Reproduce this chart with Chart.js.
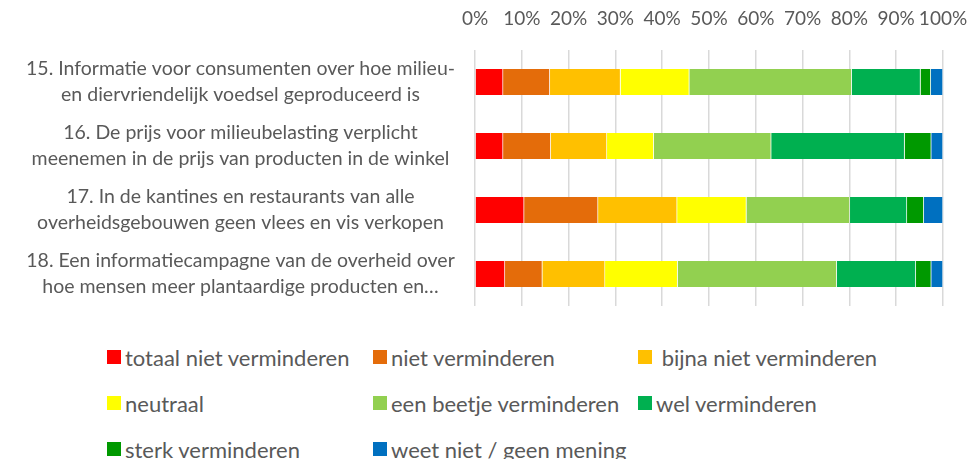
<!DOCTYPE html>
<html>
<head>
<meta charset="utf-8">
<script src="https://cdn.jsdelivr.net/npm/chart.js@4/dist/chart.umd.min.js"></script>
<style>
  body { margin: 0; background: #fff; }
  #wrap { position: relative; width: 980px; height: 459px; }
  #legend {
    position: absolute; left: 107px; top: 334px;
    display: grid; grid-template-columns: 266px 265px 300px; grid-auto-rows: 46px;
    font-family: Lato, "Noto Sans", sans-serif; font-size: 22px; color: #595959;
  }
  .item { display: flex; align-items: center; white-space: pre; }
  .box { width: 14px; height: 14px; margin-right: 4px; flex: none; }
</style>
</head>
<body>
<div id="wrap">
  <canvas id="myChart" width="980" height="320" style="width:980px;height:320px"></canvas>
  <div id="legend"></div>
</div>
<script>
var categories = [
  ["15. Informatie voor consumenten over hoe milieu-", "en diervriendelijk voedsel geproduceerd is"],
  ["16. De prijs voor milieubelasting verplicht", "meenemen in de prijs van producten in de winkel"],
  ["17. In de kantines en restaurants van alle", "overheidsgebouwen geen vlees en vis verkopen"],
  ["18. Een informatiecampagne van de overheid over", "hoe mensen meer plantaardige producten en\u2026"]
];

var seriesNames = [
  "totaal niet verminderen",
  "niet verminderen",
  " bijna niet verminderen",
  "neutraal",
  "een beetje verminderen",
  "wel verminderen",
  "sterk verminderen",
  "weet niet / geen mening"
];

var seriesColors = ["#FF0000", "#E46C0A", "#FFC000", "#FFFF00", "#92D050", "#00B050", "#009900", "#0070C0"];

// percentages per question (15, 16, 17, 18)
var totaalNiet = [6.0, 6.0, 10.5, 6.4];
var niet = [10.0, 10.2, 15.8, 8.0];
var bijnaNiet = [15.1, 12.0, 16.9, 13.4];
var neutraal = [14.7, 10.0, 14.8, 15.5];
var beetje = [34.7, 25.1, 22.1, 34.0];
var wel = [14.7, 28.5, 12.2, 16.9];
var sterk = [2.2, 5.7, 3.6, 3.3];
var weetNiet = [2.6, 2.5, 4.1, 2.5];

var tickLabels = ["0%", "10%", "20%", "30%", "40%", "50%", "60%", "70%", "80%", "90%", "100%"];

var seriesValues = [totaalNiet, niet, bijnaNiet, neutraal, beetje, wel, sterk, weetNiet];

var font = "Lato, 'Noto Sans', sans-serif";
var textColor = "#595959";

var datasets = seriesNames.map(function (name, i) {
  return {
    label: name,
    data: seriesValues[i],
    backgroundColor: seriesColors[i],
    borderColor: "rgba(255,255,255,0.5)",
    borderWidth: { left: 0, right: 1, top: 0, bottom: 0 },
    borderSkipped: false,
    barThickness: 26
  };
});

var canvas = document.getElementById("myChart");
var myChart = new Chart(canvas, {
  type: "bar",
  data: { labels: categories, datasets: datasets },
  options: {
    indexAxis: "y",
    responsive: false,
    animation: false,
    layout: { padding: { left: 0, right: 37, top: 0, bottom: 14 } },
    plugins: {
      legend: { display: false },
      tooltip: { enabled: false }
    },
    scales: {
      x: {
        position: "top",
        stacked: true,
        min: 0,
        max: 100,
        border: { display: false },
        grid: { color: "#d9d9d9", lineWidth: 1.5, drawTicks: false },
        ticks: {
          stepSize: 10,
          padding: 20,
          color: textColor,
          font: { family: font, size: 19 },
          maxRotation: 0,
          autoSkip: false,
          callback: function (v, i) { return tickLabels[i]; }
        },
        afterFit: function (scale) {
          scale.height = 50;
          scale.paddingLeft = 0;
          scale.paddingRight = 0;
        }
      },
      y: {
        stacked: true,
        border: { display: false },
        grid: { display: false, drawTicks: false },
        ticks: {
          padding: 20,
          crossAlign: "center",
          color: textColor,
          font: { family: font, size: 19.5, lineHeight: 1.33 }
        },
        afterFit: function (scale) {
          scale.width = 475;
          scale.paddingTop = 0;
          scale.paddingBottom = 0;
        }
      }
    }
  }
});

// legend in three columns, built from the chart datasets
var legend = document.getElementById("legend");
myChart.data.datasets.forEach(function (ds) {
  var item = document.createElement("div");
  item.className = "item";
  var box = document.createElement("span");
  box.className = "box";
  box.style.background = ds.backgroundColor;
  var txt = document.createElement("span");
  txt.textContent = ds.label;
  item.appendChild(box);
  item.appendChild(txt);
  legend.appendChild(item);
});
</script>
</body>
</html>
